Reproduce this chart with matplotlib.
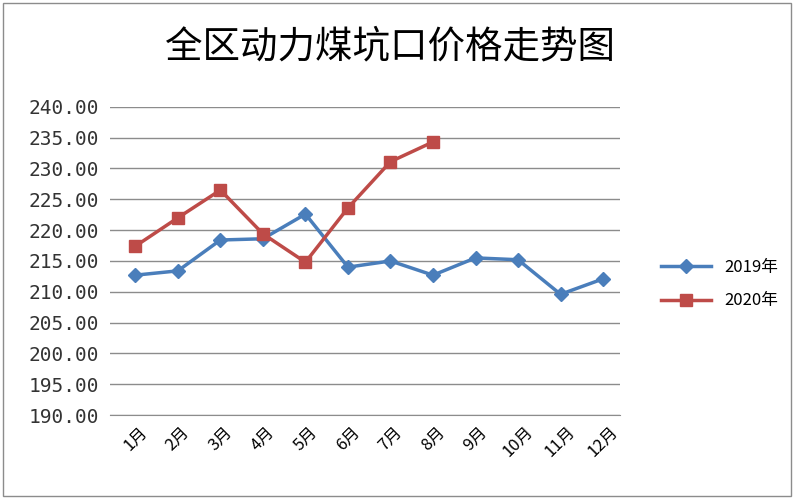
import matplotlib
matplotlib.use("Agg")
import matplotlib.pyplot as plt

plt.rcParams['font.family'] = ['Noto Sans CJK SC', 'DejaVu Sans']

months = ["1月", "2月", "3月", "4月", "5月", "6月", "7月", "8月", "9月", "10月", "11月", "12月"]
y2019 = [212.7, 213.4, 218.4, 218.6, 222.6, 214.0, 215.0, 212.7, 215.5, 215.2, 209.6, 212.1]
y2020 = [217.4, 222.0, 226.5, 219.4, 214.8, 223.6, 231.1, 234.3]
yticks = [190, 195, 200, 205, 210, 215, 220, 225, 230, 235, 240]

fig = plt.figure(figsize=(7.96, 4.99), dpi=100)
fig.patches.append(plt.Rectangle((0.004, 0.006), 0.99, 0.988, transform=fig.transFigure,
                                 fill=False, ec="#8c8c8c", lw=1))
ax = fig.add_axes([0.138, 0.168, 0.641, 0.618])

ax.plot(range(len(y2019)), y2019, color="#4a7ebb", lw=2.5, marker="D", ms=7, label="2019年")
ax.plot(range(len(y2020)), y2020, color="#be4b48", lw=2.5, marker="s", ms=9, label="2020年")

ax.set_ylim(190, 240)
ax.set_xlim(-0.6, 11.4)
ax.set_yticks(yticks)
ax.set_yticklabels([f"{v:.2f}" for v in yticks], family="DejaVu Sans Mono", fontsize=14,
                   color="#333333")
ax.set_xticks(range(len(months)))
ax.set_xticklabels(months, rotation=45, fontsize=12)
ax.yaxis.grid(True, color="#8c8c8c", lw=1)
ax.set_axisbelow(True)
for s in ["top", "right", "left"]:
    ax.spines[s].set_visible(False)
ax.spines["bottom"].set_color("#8c8c8c")
ax.tick_params(axis="y", length=0, pad=8)
ax.tick_params(axis="x", length=0, pad=6)

ax.legend(loc="center left", bbox_to_anchor=(1.05, 0.425), frameon=False, fontsize=12,
          handlelength=3, labelspacing=1.0)
fig.text(0.49, 0.905, "全区动力煤坑口价格走势图", ha="center", va="center", fontsize=27)

fig.savefig("out.png", dpi=100)
